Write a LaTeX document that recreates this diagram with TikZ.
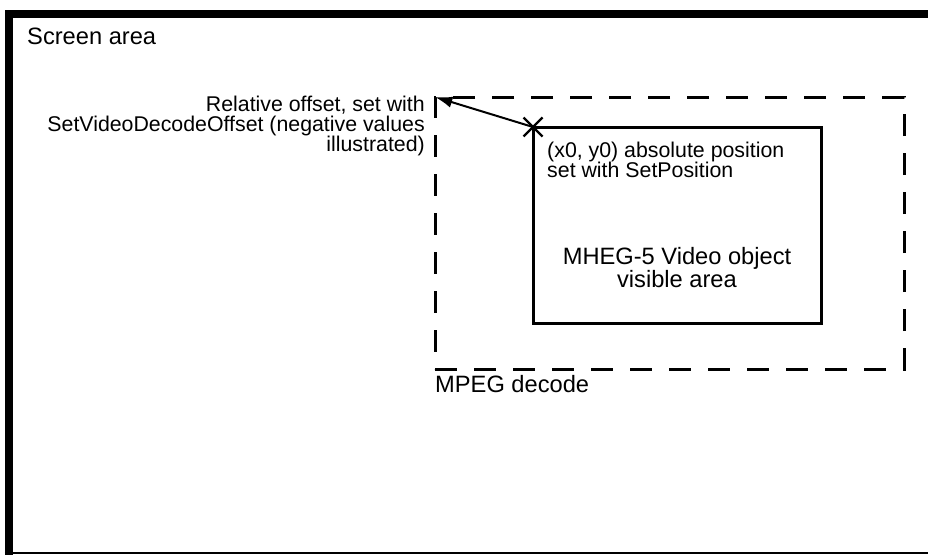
\documentclass[tikz,border=0pt]{standalone}
\usepackage{fontspec}
\setmainfont{Liberation Sans}
\usetikzlibrary{arrows.meta,shapes.misc}

\begin{document}
\begin{tikzpicture}[
    >={Latex[length=0.52cm,width=0.34cm]},
    % Styles
    smalltext/.style={font=\fontsize{18.2}{17.3}\selectfont, inner sep=0pt},
    bigtext/.style={font=\fontsize{20.2}{19.8}\selectfont, inner sep=0pt},
    decodebox/.style={draw, line width=0.09cm, dash pattern=on 0.66cm off 0.51cm,
        inner sep=0pt, outer sep=0pt},
    videobox/.style={draw, line width=0.09cm, inner sep=0pt, outer sep=0pt},
    marker/.style={draw, cross out, line width=0.07cm, minimum size=0.5cm, inner sep=0pt}
]
\useasboundingbox (0,0) rectangle (27.84,-16.65);

% --- Screen frame ---
\fill (0.15,-0.30) rectangle (27.84,-0.54);
\fill (0.15,-0.30) rectangle (0.39,-16.65);
\draw[line width=0.06cm] (0.15,-16.59) -- (27.84,-16.59);
\node[bigtext, anchor=base west] (screen) at (0.81,-1.32) {Screen area};

% --- MPEG decode area ---
\node[decodebox, minimum width=14.07cm, minimum height=8.16cm] (decode) at (20.085,-6.99) {};
\node[bigtext, anchor=base west] (decodelabel) at (13.05,-11.76) {MPEG decode};

% --- Video object ---
\node[videobox, minimum width=8.64cm, minimum height=5.88cm] (video) at (20.31,-6.75) {};
\node[bigtext, align=center, anchor=north] (videolabel) at (20.31,-7.42)
    {MHEG-5 Video object\\visible area};
\node[smalltext, align=left, anchor=north west] (poslabel) at (16.41,-4.26)
    {(x0, y0) absolute position\\set with SetPosition};

% --- Offset marker and arrow ---
\node[marker] (xmark) at (video.north west) {};
\draw[->, line width=0.06cm] (xmark.center) -- (decode.north west);
\node[smalltext, align=right, anchor=north east] (offsetlabel) at (12.75,-2.87)
    {Relative offset, set with\\SetVideoDecodeOffset (negative values\\illustrated)};

\end{tikzpicture}
\end{document}
